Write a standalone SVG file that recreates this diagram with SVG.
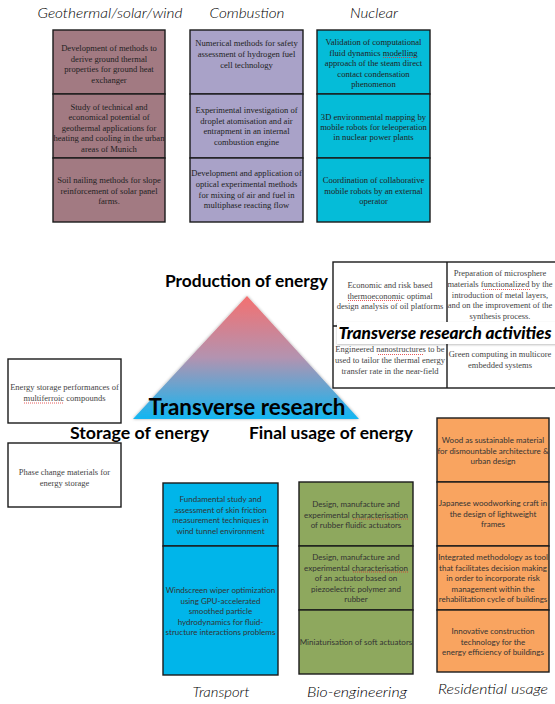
<svg xmlns="http://www.w3.org/2000/svg" width="555" height="704" viewBox="0 0 555 704">
<defs>
<linearGradient id="triGrad" x1="0" y1="0" x2="0" y2="1">
<stop offset="0" stop-color="#f47070"/>
<stop offset="0.5" stop-color="#b393b0"/>
<stop offset="1" stop-color="#12b6f2"/>
</linearGradient>
<filter id="soft" x="-10%" y="-10%" width="120%" height="125%">
<feDropShadow dx="0" dy="0" stdDeviation="1.6" flood-color="#000" flood-opacity="0.35"/>
</filter>
<filter id="lbl" x="-5%" y="-20%" width="110%" height="150%">
<feDropShadow dx="0" dy="1" stdDeviation="1" flood-color="#000" flood-opacity="0.25"/>
</filter>
</defs>
<style>
.cell{stroke:#1a1a1a;stroke-width:1.4}
.geo{fill:#a27a82}
.com{fill:#a9a2c8}
.nuc{fill:#05bcd8}
.tra{fill:#00b5ea}
.bio{fill:#8ea85e}
.res{fill:#f9a460}
.wbox{fill:#fff;stroke:#1a1a1a;stroke-width:1.4}
.ser{font-family:"Liberation Serif","Times New Roman",serif;font-size:8.6px;fill:#222;text-anchor:middle}
.serg{font-family:"Liberation Serif","Times New Roman",serif;font-size:8.5px;fill:#444;text-anchor:middle}
.san{font-family:Lato,"Liberation Sans",sans-serif;font-size:8px;fill:#333;text-anchor:middle}
.hdr{font-family:Lato,"Open Sans",sans-serif;font-style:italic;font-weight:300;font-size:14px;fill:#000;text-anchor:middle}
.big{font-family:Lato,"Liberation Sans",sans-serif;font-weight:700;fill:#000;text-anchor:middle}
.sq{stroke:#e03030;stroke-width:0.8;stroke-dasharray:1 1;fill:none}
</style>

<g id="headers">
<text class="hdr" x="110" y="18" textLength="145" lengthAdjust="spacingAndGlyphs">Geothermal/solar/wind</text>
<text class="hdr" x="247" y="18" textLength="75" lengthAdjust="spacingAndGlyphs">Combustion</text>
<text class="hdr" x="374" y="18" textLength="48" lengthAdjust="spacingAndGlyphs">Nuclear</text>
<text class="hdr" x="221" y="697" textLength="57" lengthAdjust="spacingAndGlyphs">Transport</text>
<text class="hdr" x="357" y="697" textLength="100" lengthAdjust="spacingAndGlyphs">Bio-engineering</text>
<text class="hdr" x="493" y="694" textLength="110" lengthAdjust="spacingAndGlyphs">Residential usage</text>
</g>

<g id="geo1"><rect class="cell geo" x="53" y="30" width="112" height="64"/>
<text class="ser" x="109" y="51"><tspan x="109">Development of methods to</tspan><tspan x="109" dy="10.6">derive ground thermal</tspan><tspan x="109" dy="10.6">properties for ground heat</tspan><tspan x="109" dy="10.6">exchanger</tspan></text></g>
<g id="geo2"><rect class="cell geo" x="53" y="94" width="112" height="64"/>
<text class="ser" x="109" y="110"><tspan x="109">Study of technical and</tspan><tspan x="109" dy="10.4">economical potential of</tspan><tspan x="109" dy="10.4">geothermal applications for</tspan><tspan x="109" dy="10.4">heating and cooling in the urban</tspan><tspan x="109" dy="10.4">areas of Munich</tspan></text></g>
<g id="geo3"><rect class="cell geo" x="53" y="158" width="112" height="64"/>
<text class="ser" x="109" y="183"><tspan x="109">Soil nailing methods for slope</tspan><tspan x="109" dy="10.6">reinforcement of solar panel</tspan><tspan x="109" dy="10.6">farms.</tspan></text></g>

<g id="com1"><rect class="cell com" x="190" y="30" width="113" height="64"/>
<text class="ser" x="246.5" y="46"><tspan x="246.5">Numerical methods for safety</tspan><tspan x="246.5" dy="10.8">assessment of hydrogen fuel</tspan><tspan x="246.5" dy="10.8">cell technology</tspan></text></g>
<g id="com2"><rect class="cell com" x="190" y="94" width="113" height="64"/>
<text class="ser" x="246.5" y="113"><tspan x="246.5">Experimental investigation of</tspan><tspan x="246.5" dy="10.6">droplet atomisation and air</tspan><tspan x="246.5" dy="10.6">entrapment in an internal</tspan><tspan x="246.5" dy="10.6">combustion engine</tspan></text></g>
<g id="com3"><rect class="cell com" x="190" y="158" width="113" height="64"/>
<text class="ser" x="246.5" y="176"><tspan x="246.5">Development and application of</tspan><tspan x="246.5" dy="10.8">optical experimental methods</tspan><tspan x="246.5" dy="10.8">for mixing of air and fuel in</tspan><tspan x="246.5" dy="10.8">multiphase reacting flow</tspan></text></g>

<g id="nuc1"><rect class="cell nuc" x="317" y="30" width="113" height="64"/>
<text class="ser" x="373.5" y="45"><tspan x="373.5">Validation of computational</tspan><tspan x="373.5" dy="10.5">fluid dynamics modelling</tspan><tspan x="373.5" dy="10.5">approach of the steam direct</tspan><tspan x="373.5" dy="10.5">contact condensation</tspan><tspan x="373.5" dy="10.5">phenomenon</tspan></text>
<path class="sq" d="M383 57.5 H416"/></g>
<g id="nuc2"><rect class="cell nuc" x="317" y="94" width="113" height="64"/>
<text class="ser" x="373.5" y="120"><tspan x="373.5">3D environmental mapping by</tspan><tspan x="373.5" dy="10.2">mobile robots for teleoperation</tspan><tspan x="373.5" dy="10.2">in nuclear power plants</tspan></text></g>
<g id="nuc3"><rect class="cell nuc" x="317" y="158" width="113" height="64"/>
<text class="ser" x="373.5" y="183"><tspan x="373.5">Coordination of collaborative</tspan><tspan x="373.5" dy="10.6">mobile robots by an external</tspan><tspan x="373.5" dy="10.6">operator</tspan></text></g>

<g id="pyramid">
<path d="M247 296 L359 419 L133 419 Z" fill="url(#triGrad)" filter="url(#soft)"/>
<text class="big" x="247" y="415" font-size="22" textLength="197" lengthAdjust="spacingAndGlyphs">Transverse research</text>
</g>
<g id="labels">
<text class="big" x="246.5" y="287" font-size="17" textLength="163" lengthAdjust="spacingAndGlyphs">Production of energy</text>
<text class="big" x="139.5" y="439" font-size="17" textLength="139" lengthAdjust="spacingAndGlyphs">Storage of energy</text>
<text class="big" x="331" y="439" font-size="17" textLength="164" lengthAdjust="spacingAndGlyphs">Final usage of energy</text>
</g>

<g id="transverse">
<rect class="wbox" x="333" y="262" width="224" height="126"/>
<path d="M447 262 V388 M333 326 H555" stroke="#1a1a1a" stroke-width="1.4"/>
<g id="tr1"><text class="serg" x="390" y="288"><tspan x="390">Economic and risk based</tspan><tspan x="390" dy="10.6">thermoeconomic  optimal</tspan><tspan x="390" dy="10.6">design analysis of oil platforms</tspan></text>
<path class="sq" d="M348 300.5 H401"/></g>
<g id="tr2"><text class="serg" x="500" y="276"><tspan x="500">Preparation of microsphere</tspan><tspan x="500" dy="10.8">materials functionalized by the</tspan><tspan x="500" dy="10.8">introduction  of metal layers,</tspan><tspan x="500" dy="10.8">and on the improvement of the</tspan><tspan x="500" dy="10.8">synthesis process.</tspan></text>
<path class="sq" d="M483 289.5 H531"/></g>
<g id="trlabel"><rect x="337" y="322" width="220" height="22" fill="#fff" filter="url(#lbl)"/>
<text x="445" y="339" font-family="Lato,'Liberation Sans',sans-serif" font-weight="900" font-style="italic" font-size="17" fill="#000" text-anchor="middle" textLength="213" lengthAdjust="spacingAndGlyphs">Transverse research activities</text></g>
<g id="tr3"><text class="serg" x="390" y="352"><tspan x="390">Engineered nanostructures to be</tspan><tspan x="390" dy="10.8">used to tailor the thermal energy</tspan><tspan x="390" dy="10.8">transfer rate in the near-field</tspan></text>
<path class="sq" d="M378 354.5 H424"/></g>
<g id="tr4"><text class="serg" x="500" y="357"><tspan x="500">Green computing in multicore</tspan><tspan x="500" dy="10.6">embedded systems</tspan></text></g>
</g>

<g id="stor1"><rect class="wbox" x="8" y="359" width="113" height="64"/>
<text class="serg" x="64.5" y="390"><tspan x="64.5">Energy storage performances of</tspan><tspan x="64.5" dy="10.6">multiferroic compounds</tspan></text>
<path class="sq" d="M24 403 H63"/></g>
<g id="stor2"><rect class="wbox" x="8" y="443" width="113" height="64"/>
<text class="serg" x="64.5" y="475"><tspan x="64.5">Phase change materials for</tspan><tspan x="64.5" dy="10.6">energy storage</tspan></text></g>

<g id="tra1"><rect class="cell tra" x="163" y="483" width="115" height="63"/>
<text class="san" x="220.5" y="502"><tspan x="220.5">Fundamental study and</tspan><tspan x="220.5" dy="10.5">assessment of skin friction</tspan><tspan x="220.5" dy="10.5">measurement techniques in</tspan><tspan x="220.5" dy="10.5">wind tunnel environment</tspan></text></g>
<g id="tra2"><rect class="cell tra" x="163" y="546" width="115" height="129"/>
<text class="san" x="220.5" y="593"><tspan x="220.5">Windscreen wiper optimization</tspan><tspan x="220.5" dy="10.6">using GPU-accelerated</tspan><tspan x="220.5" dy="10.6">smoothed particle</tspan><tspan x="220.5" dy="10.6">hydrodynamics for fluid-</tspan><tspan x="220.5" dy="10.6">structure interactions problems</tspan></text></g>

<g id="bio1"><rect class="cell bio" x="299" y="482" width="114" height="64"/>
<text class="san" x="356" y="507"><tspan x="356">Design, manufacture and</tspan><tspan x="356" dy="10.7">experimental characterisation</tspan><tspan x="356" dy="10.7">of rubber fluidic actuators</tspan></text>
<path class="sq" d="M353 519 H408"/></g>
<g id="bio2"><rect class="cell bio" x="299" y="546" width="114" height="64"/>
<text class="san" x="356" y="560"><tspan x="356">Design, manufacture and</tspan><tspan x="356" dy="10.5">experimental characterisation</tspan><tspan x="356" dy="10.5">of an actuator based on</tspan><tspan x="356" dy="10.5">piezoelectric polymer and</tspan><tspan x="356" dy="10.5">rubber</tspan></text>
<path class="sq" d="M353 572 H408"/></g>
<g id="bio3"><rect class="cell bio" x="299" y="610" width="114" height="64"/>
<text class="san" x="356" y="645">Miniaturisation of soft actuators</text></g>

<g id="res1"><rect class="cell res" x="437" y="418" width="112" height="64"/>
<text class="san" x="493" y="443"><tspan x="493">Wood as sustainable material</tspan><tspan x="493" dy="10.5">for dismountable architecture &amp;</tspan><tspan x="493" dy="10.5">urban design</tspan></text></g>
<g id="res2"><rect class="cell res" x="437" y="482" width="112" height="64"/>
<text class="san" x="493" y="506"><tspan x="493">Japanese woodworking craft in</tspan><tspan x="493" dy="10.5">the design of lightweight</tspan><tspan x="493" dy="10.5">frames</tspan></text></g>
<g id="res3"><rect class="cell res" x="437" y="546" width="112" height="64"/>
<text class="san" x="493" y="560"><tspan x="493">Integrated methodology as tool</tspan><tspan x="493" dy="10.5">that facilitates decision making</tspan><tspan x="493" dy="10.5">in order to incorporate risk</tspan><tspan x="493" dy="10.5">management within the</tspan><tspan x="493" dy="10.5">rehabilitation cycle of buildings</tspan></text></g>
<g id="res4"><rect class="cell res" x="437" y="610" width="112" height="62"/>
<text class="san" x="493" y="634"><tspan x="493">Innovative construction</tspan><tspan x="493" dy="10.5">technology for the</tspan><tspan x="493" dy="10.5">energy efficiency of buildings</tspan></text></g>

<g id="connectors"></g>
</svg>
